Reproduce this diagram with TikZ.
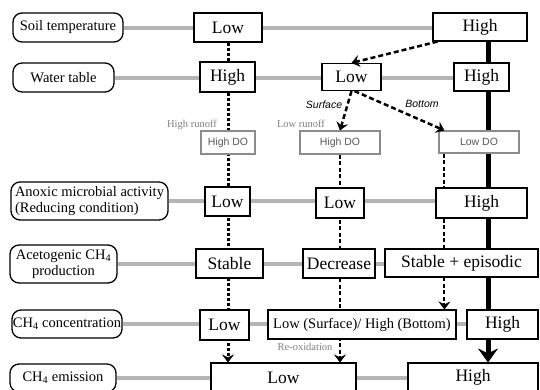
\documentclass[tikz,border=0pt]{standalone}
\usepackage{fontspec}
\setmainfont{Liberation Serif}
\setsansfont{Liberation Sans}
\usetikzlibrary{arrows.meta}

\pgfdeclarelayer{back}
\pgfsetlayers{back,main}

\definecolor{rowgray}{HTML}{B5B5B5}
\definecolor{dogray}{HTML}{8C8C8C}

\tikzset{
    rowlabel/.style={draw, line width=1.3pt, rounded corners=9pt, fill=white,
        inner sep=0pt, align=center, font=\fontsize{14.5}{16}\selectfont},
    valbox/.style={draw, line width=1.1pt, fill=white, inner sep=0pt,
        font=\fontsize{17.5}{19}\selectfont},
    dobox/.style={draw=dogray, line width=1.1pt, fill=white, inner sep=0pt,
        text=black!65, font=\sffamily\fontsize{10.5}{12}\selectfont},
    note/.style={text=black!50, inner sep=0pt, font=\fontsize{10.5}{12}\selectfont},
    branch/.style={inner sep=0pt, font=\sffamily\itshape\fontsize{10.5}{12}\selectfont},
    rowline/.style={draw=rowgray, line width=4pt},
    dotline/.style={line width=3pt, dash pattern=on 3pt off 2pt},
    dashline/.style={line width=2pt, dash pattern=on 4pt off 2.5pt},
    thickdash/.style={line width=2.5pt, dash pattern=on 5pt off 3pt},
    mainline/.style={line width=5pt},
    smalltip/.tip={Stealth[length=8pt, width=12pt, inset=3pt, line width=0.4pt]},
    bigtip/.tip={Stealth[length=14pt, width=20pt, inset=5pt, line width=0.4pt]}
}

\begin{document}
\begin{tikzpicture}[x=1pt, y=-1pt]
    \useasboundingbox (0, 0) rectangle (540, 389);

    % Row labels on the left
    \node[rowlabel, minimum width=110, minimum height=29] (soil) at (68, 27.5) {Soil temperature};
    \node[rowlabel, minimum width=101, minimum height=29] (water) at (63.5, 77.5) {Water table};
    \node[rowlabel, minimum width=157, minimum height=38, align=left] (anoxic) at (89.5, 201)
        {Anoxic microbial activity\\(Reducing condition)};
    \node[rowlabel, minimum width=107, minimum height=38] (aceto) at (63.5, 264)
        {Acetogenic CH\textsubscript{4}\\production};
    \node[rowlabel, minimum width=110, minimum height=28] (conc) at (67, 324)
        {CH\textsubscript{4} concentration};
    \node[rowlabel, minimum width=106, minimum height=28] (emis) at (63, 378)
        {CH\textsubscript{4} emission};

    % Soil temperature
    \node[valbox, minimum width=68, minimum height=29] (t1) at (228, 27.5) {Low};
    \node[valbox, minimum width=94, minimum height=28] (t3) at (480, 27) {High};

    % Water table
    \node[valbox, minimum width=55, minimum height=30] (w1) at (227.5, 77) {High};
    \node[valbox, minimum width=59, minimum height=27] (w2) at (351.5, 77) {Low};
    \node[valbox, minimum width=55, minimum height=28] (w3) at (481.5, 77) {High};

    % Dissolved oxygen
    \node[dobox, minimum width=54, minimum height=23] (d1) at (228, 142.5) {High DO};
    \node[dobox, minimum width=80, minimum height=23] (d2) at (340, 142.5) {High DO};
    \node[dobox, minimum width=80, minimum height=22] (d3) at (479, 142) {Low DO};

    % Anoxic microbial activity
    \node[valbox, minimum width=45, minimum height=29] (a1) at (227.5, 201.5) {Low};
    \node[valbox, minimum width=48, minimum height=30] (a2) at (340, 203) {Low};
    \node[valbox, minimum width=91, minimum height=30] (a3) at (481.5, 203) {High};

    % Acetogenic production
    \node[valbox, minimum width=67, minimum height=29] (p1) at (229.5, 263.5) {Stable};
    \node[valbox, minimum width=72, minimum height=29] (p2) at (339, 263.5) {Decrease};
    \node[valbox, minimum width=153, minimum height=28] (p3) at (461.5, 263) {Stable + episodic};

    % Concentration
    \node[valbox, minimum width=49, minimum height=30] (c1) at (224.5, 325) {Low};
    \node[valbox, minimum width=188, minimum height=29, font=\fontsize{14.5}{16}\selectfont] (c2)
        at (362, 324.5) {Low (Surface)/ High (Bottom)};
    \node[valbox, minimum width=71, minimum height=29] (c3) at (502.5, 324.5) {High};

    % Emission
    \node[valbox, minimum width=145, minimum height=29] (e1) at (283.5, 377.5) {Low};
    \node[valbox, minimum width=130, minimum height=29] (e3) at (473, 377.5) {High};

    % Small notes
    \node[note] (hrun) at (192, 125) {High runoff};
    \node[note] (lrun) at (301, 124) {Low runoff};
    \node[note] (reox) at (305, 347) {Re-oxidation};
    \node[branch] (surf) at (324, 105) {Surface};
    \node[branch] (bott) at (422, 104) {Bottom};

    \begin{pgfonlayer}{back}
        % Grey lines through each row
        \foreach \a/\b in {soil/t3, water/w3, anoxic/a3, aceto/p3, conc/c3, emis/e3}
            \draw[rowline] (\a.east) -- (\a.east -| \b.west);

        % Low temperature path
        \draw[dotline, -{smalltip}] (t1.south) -- (t1.south |- e1.north);

        % High temperature path
        \draw[mainline, -{bigtip}] ([xshift=8pt]t3.south) -- ([xshift=8pt]t3.south |- e3.north);

        % Surface and bottom paths
        \draw[dashline, -{smalltip}] (d2.south) -- (d2.south |- e1.north);
        \draw[dashline, -{smalltip}] ([xshift=6pt]d3.south west) -- ([xshift=6pt]d3.south west |- c2.north);
    \end{pgfonlayer}

    % Branches from high temperature
    \draw[thickdash, -{smalltip}] ([xshift=5pt]t3.south west) -- (w2.north);
    \draw[thickdash, -{smalltip}] (w2.south) -- (d2.north);
    \draw[thickdash, -{smalltip}] ([xshift=3pt]w2.south) -- ([xshift=6pt]d3.north west);
\end{tikzpicture}
\end{document}
